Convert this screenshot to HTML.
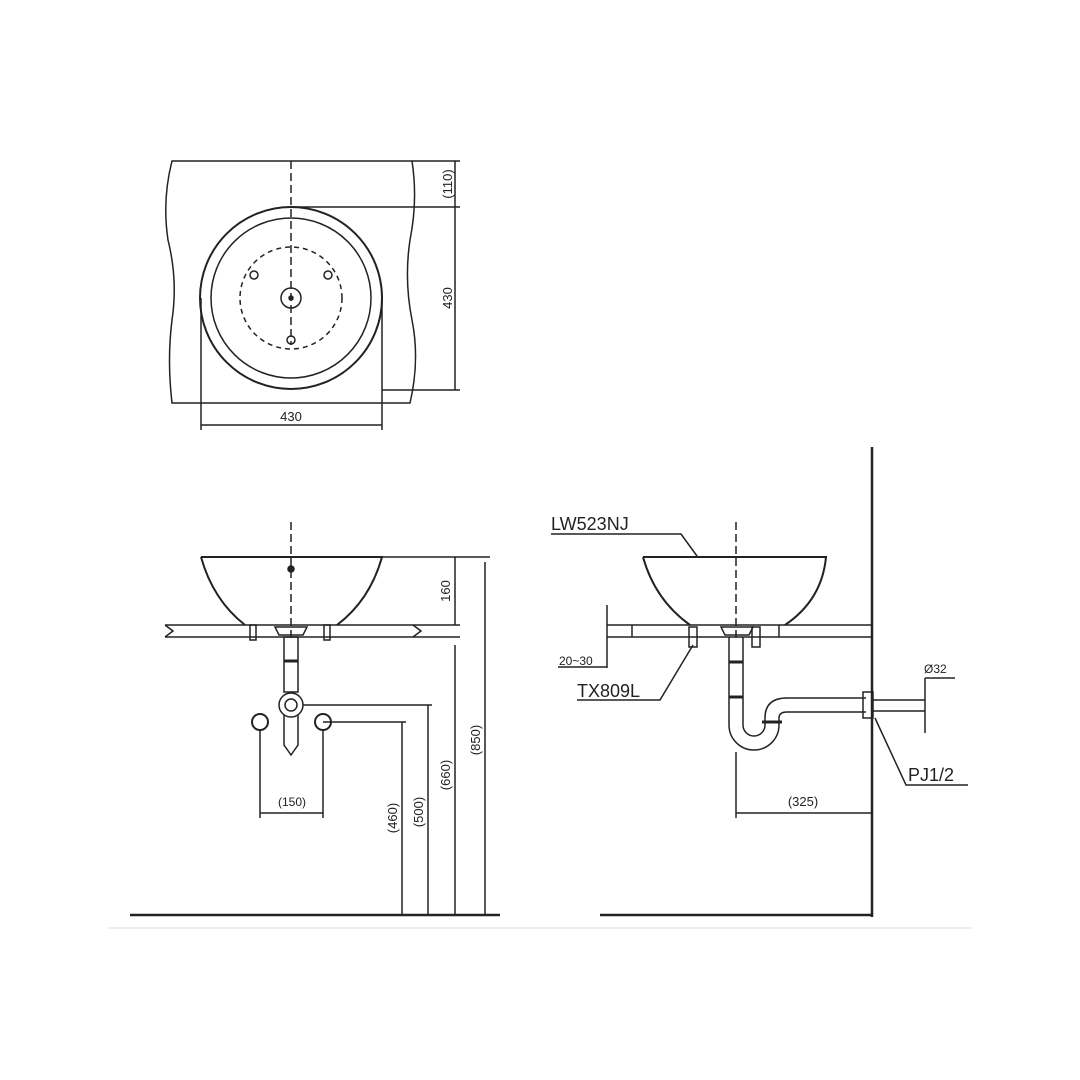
<!DOCTYPE html>
<html><head><style>body{margin:0;background:#fff}svg{display:block}text{font-family:"Liberation Sans",sans-serif;fill:#222}</style></head><body>
<svg width="1080" height="1080" viewBox="0 0 1080 1080" fill="none" stroke="#222" stroke-width="1.5">
<!-- TOP VIEW -->
<path d="M172 161 H412 Q418 200 410 240 Q404 280 412 320 Q420 360 410 403 H172 Q167 360 172 320 Q178 280 168 240 Q162 200 172 161Z"/>
<line x1="291" y1="161" x2="291" y2="345" stroke-dasharray="8 4"/>
<circle cx="291" cy="298" r="91" stroke-width="2"/>
<circle cx="291" cy="298" r="80"/>
<circle cx="291" cy="298" r="51" stroke-dasharray="5 4"/>
<circle cx="291" cy="298" r="10"/><circle cx="291" cy="298" r="2" fill="#222"/>
<circle cx="254" cy="275" r="4"/><circle cx="328" cy="275" r="4"/><circle cx="291" cy="340" r="4"/>
<line x1="412" y1="161" x2="460" y2="161"/><line x1="291" y1="207" x2="460" y2="207"/><line x1="382" y1="390" x2="460" y2="390"/>
<line x1="455" y1="161" x2="455" y2="390"/>
<text x="452" y="184" font-size="13" transform="rotate(-90 452 184)" text-anchor="middle" stroke="none">(110)</text>
<text x="452" y="298" font-size="13" transform="rotate(-90 452 298)" text-anchor="middle" stroke="none">430</text>
<line x1="201" y1="298" x2="201" y2="430"/><line x1="382" y1="298" x2="382" y2="430"/>
<line x1="201" y1="425" x2="382" y2="425"/>
<text x="291" y="421" font-size="13" text-anchor="middle" stroke="none">430</text>
<!-- FRONT VIEW -->
<line x1="291" y1="522" x2="291" y2="640" stroke-dasharray="8 4"/>
<path d="M201 557 H382 Q370 600 337 625 M201 557 Q213 600 245 625" stroke-width="2"/>
<line x1="382" y1="557" x2="490" y2="557"/>
<line x1="165" y1="625" x2="460" y2="625"/><line x1="165" y1="637" x2="460" y2="637"/>
<path d="M165 625 l8 6 l-8 6 M413 625 l8 6 l-8 6"/>
<circle cx="291" cy="569" r="3" fill="#222"/>
<rect x="250" y="625" width="6" height="15"/><rect x="324" y="625" width="6" height="15"/>
<path d="M275 627 h32 l-4 8 h-24z"/>
<rect x="284" y="637" width="14" height="55"/><line x1="284" y1="661" x2="298" y2="661" stroke-width="3"/>
<circle cx="291" cy="705" r="12"/><circle cx="291" cy="705" r="6"/>
<path d="M284 715 v30 l7 10 l7 -10 v-30" />
<circle cx="260" cy="722" r="8" stroke-width="2"/><circle cx="323" cy="722" r="8" stroke-width="2"/>
<line x1="303" y1="705" x2="432" y2="705"/><line x1="323" y1="722" x2="406" y2="722"/>
<line x1="260" y1="730" x2="260" y2="818"/><line x1="323" y1="730" x2="323" y2="818"/>
<line x1="260" y1="813" x2="323" y2="813"/>
<text x="292" y="806" font-size="12" text-anchor="middle" stroke="none">(150)</text>
<line x1="455" y1="557" x2="455" y2="625"/><line x1="455" y1="645" x2="455" y2="915"/>
<line x1="485" y1="562" x2="485" y2="915"/><line x1="428" y1="705" x2="428" y2="915"/><line x1="402" y1="722" x2="402" y2="915"/>
<text x="450" y="591" font-size="13" transform="rotate(-90 450 591)" text-anchor="middle" stroke="none">160</text>
<text x="480" y="740" font-size="13" transform="rotate(-90 480 740)" text-anchor="middle" stroke="none">(850)</text>
<text x="450" y="775" font-size="13" transform="rotate(-90 450 775)" text-anchor="middle" stroke="none">(660)</text>
<text x="423" y="812" font-size="13" transform="rotate(-90 423 812)" text-anchor="middle" stroke="none">(500)</text>
<text x="397" y="818" font-size="13" transform="rotate(-90 397 818)" text-anchor="middle" stroke="none">(460)</text>
<line x1="130" y1="915" x2="500" y2="915" stroke-width="2.5"/>
<!-- SIDE VIEW -->
<line x1="872" y1="447" x2="872" y2="917" stroke-width="2.5"/>
<line x1="600" y1="915" x2="872" y2="915" stroke-width="2.5"/>
<line x1="736" y1="522" x2="736" y2="640" stroke-dasharray="8 4"/>
<path d="M643 557 H826 Q822 600 785 625 M643 557 Q655 600 690 625" stroke-width="2"/>
<line x1="607" y1="625" x2="872" y2="625"/><line x1="607" y1="637" x2="872" y2="637"/>
<line x1="632" y1="625" x2="632" y2="637"/><line x1="779" y1="625" x2="779" y2="637"/>
<line x1="607" y1="605" x2="607" y2="668"/>
<text x="559" y="665" font-size="12" stroke="none">20~30</text>
<line x1="558" y1="667" x2="607" y2="667"/>
<rect x="689" y="627" width="8" height="20"/><rect x="752" y="627" width="8" height="20"/>
<path d="M721 627 h32 l-4 8 h-24z"/>
<path d="M729 637 V725 A25 25 0 0 0 779 725 V718 Q779 712 787 712 H866 M743 637 V725 A11 11 0 0 0 765 725 V718 Q765 698 787 698 H866" />
<line x1="729" y1="662" x2="743" y2="662" stroke-width="3"/><line x1="729" y1="697" x2="743" y2="697" stroke-width="3"/>
<line x1="762" y1="722" x2="782" y2="722" stroke-width="3"/>
<rect x="863" y="692" width="10" height="26"/>
<line x1="873" y1="700" x2="925" y2="700"/><line x1="873" y1="711" x2="925" y2="711"/>
<line x1="925" y1="678" x2="925" y2="733"/><line x1="925" y1="678" x2="955" y2="678"/>
<text x="924" y="673" font-size="12" stroke="none">Ø32</text>
<line x1="736" y1="752" x2="736" y2="818"/>
<line x1="736" y1="813" x2="872" y2="813"/>
<text x="803" y="806" font-size="13" text-anchor="middle" stroke="none">(325)</text>
<text x="551" y="530" font-size="18" stroke="none">LW523NJ</text>
<polyline points="551,534 681,534 697,556"/>
<text x="577" y="697" font-size="18" stroke="none">TX809L</text>
<polyline points="577,700 660,700 693,645"/>
<text x="908" y="781" font-size="18" stroke="none">PJ1/2</text>
<polyline points="968,785 906,785 875,718"/>
<line x1="108" y1="928" x2="972" y2="928" stroke="#ddd" stroke-width="1"/>
</svg>
</body></html>
